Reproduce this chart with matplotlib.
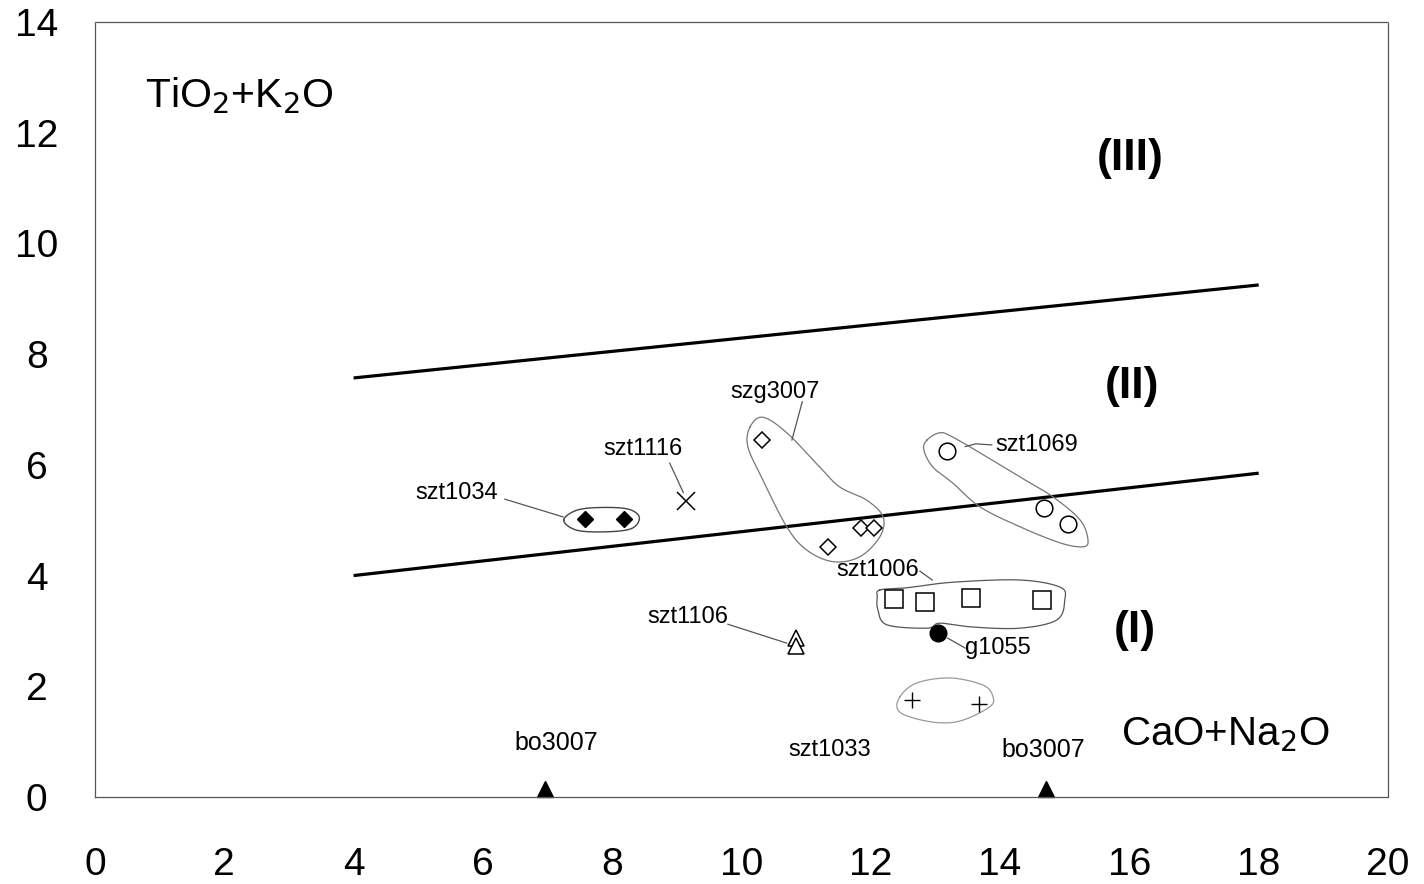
import numpy as np
import matplotlib
matplotlib.use("Agg")
import matplotlib.pyplot as plt

plt.rcParams['font.family'] = ['Liberation Sans', 'DejaVu Sans']

# ---------------- data ----------------
boundary_x = [4, 18]
boundary_lower_y = [4.0, 5.85]
boundary_upper_y = [7.57, 9.25]

szt1034_x = [7.58, 8.18]
szt1034_y = [5.02, 5.02]
szt1116_x = [9.14]
szt1116_y = [5.35]
szg3007_x = [10.32, 11.34, 11.85, 12.05]
szg3007_y = [6.45, 4.52, 4.86, 4.86]
szt1069_x = [13.18, 14.68, 15.05]
szt1069_y = [6.25, 5.22, 4.93]
szt1006_x = [12.36, 12.84, 13.55, 14.65]
szt1006_y = [3.58, 3.52, 3.59, 3.56]
g1055_x = [13.04]
g1055_y = [2.96]
szt1106_x = [10.84, 10.84]
szt1106_y = [2.88, 2.72]
szt1033_x = [12.64, 13.67]
szt1033_y = [1.75, 1.68]
bo3007_x = [6.96, 14.71]
bo3007_y = [0.15, 0.15]

# enclosure outlines (data coords)
outline_szg3007 = [(10.13, 6.68), (10.33, 6.86), (10.70, 6.58), (11.21, 5.96), (11.52, 5.60),
                   (11.94, 5.36), (12.19, 5.06), (12.14, 4.70), (11.83, 4.34), (11.42, 4.25),
                   (11.01, 4.46), (10.70, 4.88), (10.33, 5.73), (10.10, 6.32)]
outline_szt1069 = [(12.87, 6.45), (13.07, 6.58), (13.27, 6.50), (13.80, 6.14), (14.31, 5.78),
                   (14.82, 5.42), (15.24, 5.00), (15.36, 4.64), (15.28, 4.52), (14.93, 4.59),
                   (14.31, 4.88), (13.69, 5.24), (13.27, 5.67), (12.96, 5.96), (12.82, 6.27)]
outline_szt1006 = [(12.14, 3.74), (12.56, 3.78), (13.27, 3.88), (14.31, 3.92), (14.93, 3.79),
                   (15.00, 3.56), (14.88, 3.20), (14.31, 3.05), (13.58, 3.07), (13.07, 3.14),
                   (12.87, 3.05), (12.25, 3.11), (12.11, 3.38), (12.10, 3.61)]
outline_szt1033 = [(12.45, 1.81), (12.71, 2.06), (13.23, 2.15), (13.74, 2.02), (13.89, 1.81),
                   (13.84, 1.63), (13.43, 1.39), (13.07, 1.34), (12.65, 1.43), (12.42, 1.57)]
outline_szt1034 = [(7.25, 5.00), (7.45, 5.18), (7.83, 5.23), (8.25, 5.20), (8.42, 5.05),
                   (8.30, 4.85), (7.90, 4.79), (7.45, 4.82)]

x_ticks = [0, 2, 4, 6, 8, 10, 12, 14, 16, 18, 20]
y_ticks = [0, 2, 4, 6, 8, 10, 12, 14]

# labels: (text, x, y, size)
labels = [
    ("szg3007", 10.52, 7.32, 17),
    ("szt1116", 8.48, 6.29, 17),
    ("szt1034", 5.60, 5.49, 17),
    ("szt1069", 14.56, 6.36, 17),
    ("szt1006", 12.11, 4.10, 17),
    ("szt1106", 9.17, 3.25, 17),
    ("g1055", 13.97, 2.69, 17),
    ("szt1033", 11.37, 0.85, 17),
    ("bo3007", 7.13, 0.98, 18),
    ("bo3007", 14.66, 0.85, 18),
]
region_labels = [
    ("(III)", 16.01, 11.54),
    ("(II)", 16.04, 7.41),
    ("(I)", 16.09, 3.00),
]
leaders = [
    [(6.34, 5.38), (7.24, 5.06)],
    [(8.89, 6.03), (9.10, 5.50)],
    [(10.94, 7.14), (10.78, 6.45)],
    [(13.46, 6.33), (13.62, 6.38), (13.87, 6.36)],
    [(12.76, 4.08), (12.95, 3.92)],
    [(9.79, 3.12), (10.70, 2.78)],
    [(13.19, 2.87), (13.46, 2.69)],
]


def closed_smooth(pts, n=20):
    p = np.array(pts, dtype=float)
    m = len(p)
    out = []
    for i in range(m):
        p0, p1, p2, p3 = p[(i - 1) % m], p[i], p[(i + 1) % m], p[(i + 2) % m]
        t = np.linspace(0, 1, n, endpoint=False)[:, None]
        seg = 0.5 * ((2 * p1) + (-p0 + p2) * t + (2 * p0 - 5 * p1 + 4 * p2 - p3) * t ** 2
                     + (-p0 + 3 * p1 - 3 * p2 + p3) * t ** 3)
        out.append(seg)
    out = np.vstack(out)
    return np.vstack([out, out[:1]])


fig = plt.figure(figsize=(14.24, 8.84), dpi=100)
ax = fig.add_axes([95 / 1424, 1 - 797 / 884, (1388 - 95) / 1424, (797 - 22) / 884])
ax.set_xlim(0, 20)
ax.set_ylim(0, 14)

# boundary lines
ax.plot(boundary_x, boundary_lower_y, color='black', lw=2.3, solid_capstyle='butt')
ax.plot(boundary_x, boundary_upper_y, color='black', lw=2.3, solid_capstyle='butt')

# enclosures
for outline, col, lw in [(outline_szg3007, '#777777', 0.9), (outline_szt1069, '#777777', 0.9),
                         (outline_szt1006, '#555555', 0.9), (outline_szt1033, '#999999', 0.9),
                         (outline_szt1034, '#444444', 1.0)]:
    c = closed_smooth(outline)
    ax.plot(c[:, 0], c[:, 1], color=col, lw=lw)

# leaders
for seg in leaders:
    s = np.array(seg)
    ax.plot(s[:, 0], s[:, 1], color='#555555', lw=0.9)

# markers
ax.plot(szt1034_x, szt1034_y, 'D', ms=8.5, color='black', ls='none')
ax.plot(szt1116_x, szt1116_y, 'x', ms=13, color='black', mew=1.1, ls='none')
ax.plot(szg3007_x, szg3007_y, 'D', ms=8, mfc='white', mec='black', mew=1.1, ls='none')
ax.plot(szt1069_x, szt1069_y, 'o', ms=12, mfc='white', mec='black', mew=1.1, ls='none')
ax.plot(szt1006_x, szt1006_y, 's', ms=12.5, mfc='white', mec='black', mew=1.1, ls='none')
ax.plot(g1055_x, g1055_y, 'o', ms=12, color='black', ls='none')
ax.plot(szt1106_x, szt1106_y, '^', ms=12, mfc='white', mec='black', mew=1.1, ls='none')
ax.plot(szt1033_x, szt1033_y, '+', ms=12, color='black', mew=1.0, ls='none')
ax.plot(bo3007_x, bo3007_y, '^', ms=12, color='black', ls='none', clip_on=False)

for txt, x, y, s in labels:
    ax.text(x, y, txt, fontsize=s, ha='center', va='center')

for txt, x, y in region_labels:
    ax.text(x, y, txt, fontsize=32, fontweight='bold', ha='center', va='center',
            family=['Liberation Sans Narrow', 'Liberation Sans', 'DejaVu Sans'])

ax.text(2.23, 12.66, r'TiO$_2$+K$_2$O', fontsize=29.5, ha='center', va='center')
ax.text(17.48, 1.12, r'CaO+Na$_2$O', fontsize=29, ha='center', va='center')

ax.set_xticks(x_ticks)
ax.set_yticks(y_ticks)
ax.set_xticklabels([str(v) for v in x_ticks])
ax.set_yticklabels([str(v) for v in y_ticks])
ax.tick_params(axis='x', length=0, pad=36, labelsize=28)
ax.tick_params(axis='y', length=0, pad=42, labelsize=28)
for lab in ax.get_yticklabels():
    lab.set_horizontalalignment('center')

for side in ['top', 'bottom', 'right', 'left']:
    ax.spines[side].set_linestyle((0, (1.5, 1)))
    ax.spines[side].set_color('#555555')
    ax.spines[side].set_linewidth(0.9)

fig.savefig('out.png', dpi=100)
